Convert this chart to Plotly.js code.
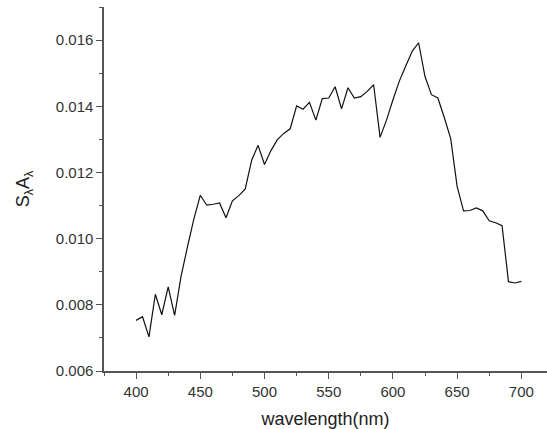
<!DOCTYPE html>
<html>
<head>
<meta charset="utf-8">
<script src="https://cdn.plot.ly/plotly-3.0.1.min.js"></script>
<style>
  html, body { margin: 0; padding: 0; background: #fff; }
  #chart { width: 547px; height: 429px; }
</style>
</head>
<body>
<div id="chart"></div>
<script>
// Wavelength grid (nm)
const wavelength = [
  400, 405, 410, 415, 420, 425, 430, 435, 440, 445,
  450, 455, 460, 465, 470, 475, 480, 485, 490, 495,
  500, 505, 510, 515, 520, 525, 530, 535, 540, 545,
  550, 555, 560, 565, 570, 575, 580, 585, 590, 595,
  600, 605, 610, 615, 620, 625, 630, 635, 640, 645,
  650, 655, 660, 665, 670, 675, 680, 685, 690, 695,
  700
];

// Product of spectral sensitivity and absorptance, S_λ·A_λ
const sLambdaALambda = [
  0.00753, 0.00764, 0.00703, 0.00832, 0.00770, 0.00854, 0.00768, 0.00886, 0.00975, 0.01060,
  0.01131, 0.01101, 0.01104, 0.01108, 0.01063, 0.01114, 0.01130, 0.01150, 0.01237, 0.01282,
  0.01224, 0.01266, 0.01299, 0.01318, 0.01332, 0.01401, 0.01391, 0.01412, 0.01358, 0.01423,
  0.01425, 0.01459, 0.01392, 0.01456, 0.01425, 0.01429, 0.01445, 0.01465, 0.01306, 0.01358,
  0.01419, 0.01476, 0.01522, 0.01566, 0.01592, 0.01490, 0.01435, 0.01425, 0.01366, 0.01302,
  0.01158, 0.01084, 0.01085, 0.01093, 0.01084, 0.01054, 0.01048, 0.01039, 0.00870, 0.00866,
  0.00871
];

// Axis tick labels
const xTickVals = [400, 450, 500, 550, 600, 650, 700];
const yTickVals = [0.006, 0.008, 0.010, 0.012, 0.014, 0.016];

const fontFamily = 'Liberation Sans, Arial, sans-serif';
const axisColor = '#555';

const trace = {
  x: wavelength,
  y: sLambdaALambda,
  type: 'scatter',
  mode: 'lines',
  line: { color: '#111', width: 1.2 },
  hoverinfo: 'x+y'
};

const layout = {
  width: 547,
  height: 429,
  margin: { l: 104, r: 0, t: 7, b: 58 },
  paper_bgcolor: '#fff',
  plot_bgcolor: '#fff',
  showlegend: false,
  font: { family: fontFamily, color: '#222' },
  xaxis: {
    range: [375, 720],
    tickvals: xTickVals,
    ticktext: xTickVals.map(String),
    ticks: 'outside',
    ticklen: 6,
    tickwidth: 1,
    tickcolor: axisColor,
    minor: { ticks: 'outside', dtick: 25, tick0: 375, ticklen: 3, tickwidth: 1, tickcolor: axisColor, showgrid: false },
    showline: true,
    linecolor: axisColor,
    linewidth: 1.6,
    showgrid: false,
    zeroline: false,
    tickfont: { family: fontFamily, size: 15, color: '#333' },
    title: { text: 'wavelength(nm)', font: { family: fontFamily, size: 18, color: '#222' }, standoff: 14 }
  },
  yaxis: {
    range: [0.006, 0.017],
    tickvals: yTickVals,
    ticktext: yTickVals.map(v => v.toFixed(3)),
    ticks: 'outside',
    ticklen: 6,
    tickwidth: 1,
    tickcolor: axisColor,
    minor: { ticks: 'outside', dtick: 0.001, tick0: 0.006, ticklen: 3, tickwidth: 1, tickcolor: axisColor, showgrid: false },
    showline: true,
    linecolor: axisColor,
    linewidth: 1.6,
    showgrid: false,
    zeroline: false,
    tickfont: { family: fontFamily, size: 15, color: '#333' },
    title: { text: 'S<sub>λ</sub>A<sub>λ</sub>', font: { family: fontFamily, size: 18, color: '#222' }, standoff: 21 }
  }
};

Plotly.newPlot('chart', [trace], layout, { staticPlot: true, displayModeBar: false });
</script>
</body>
</html>
